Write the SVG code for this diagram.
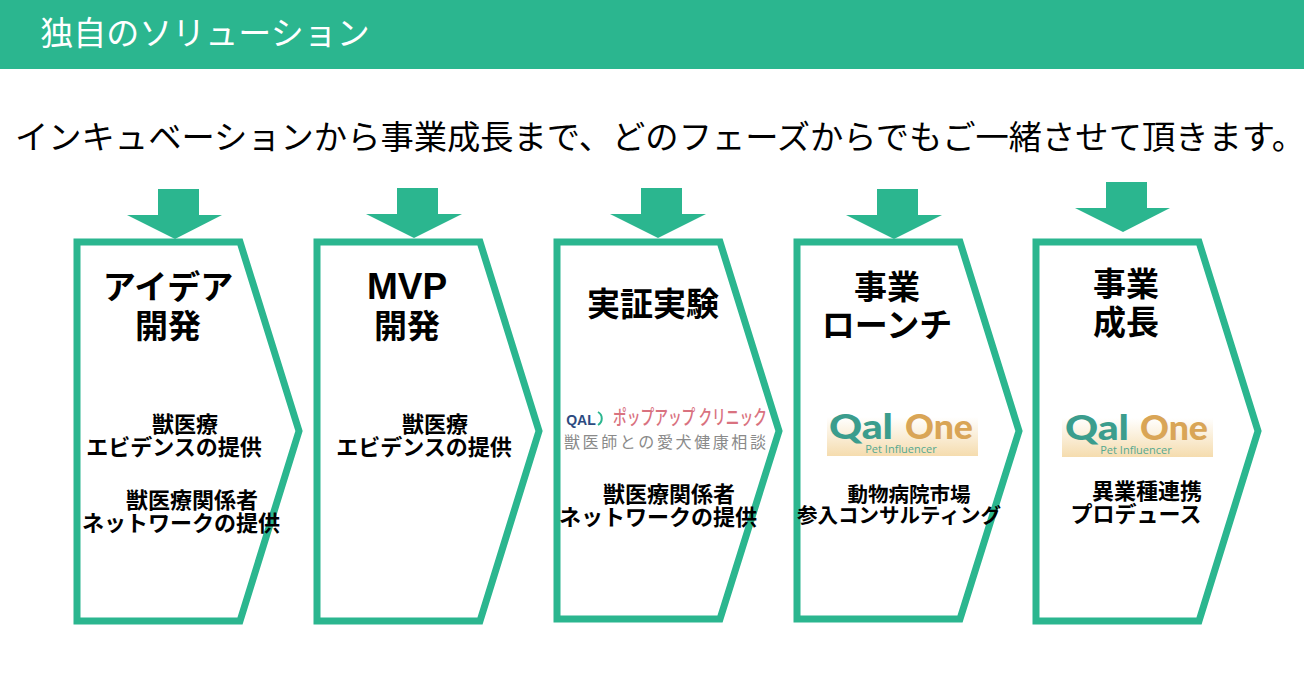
<svg xmlns="http://www.w3.org/2000/svg" width="1304" height="678" viewBox="0 0 1304 678">
<defs>
<linearGradient id="g" x1="0" y1="0" x2="0" y2="1"><stop offset="0" stop-color="#fff"/><stop offset="1" stop-color="#f5dcae"/></linearGradient>
</defs>
<style>
text{font-family:"Noto Sans CJK JP","Liberation Sans",sans-serif;fill:#000;text-anchor:middle}
.s{fill:none;stroke:#2bb68f;stroke-width:7;stroke-miterlimit:8}
.a{fill:#2bb68f}
.h{font-size:33px;font-weight:700}
.b{font-size:22px;font-weight:700}
.c{font-size:20.500px;font-weight:700}
.q{font-family:"Lato","Liberation Sans",sans-serif;font-size:35px;font-weight:900;text-anchor:start}
.p{font-family:"Open Sans","Liberation Sans",sans-serif;font-size:11px;fill:#55a890}
</style>
<rect width="1304" height="69" fill="#2bb68f"/>
<text x="205" y="45" style="font-size:33px;fill:#fff">独自のソリューション</text>
<text x="15" y="149" style="font-size:33px;text-anchor:start" textLength="1290" lengthAdjust="spacingAndGlyphs">インキュベーションから事業成長まで、どのフェーズからでもご一緒させて頂きます。</text>
<g id="connectors">
<polygon class="a" points="158,189 199,189 199,215 222,215 175,239 127,215 158,215"/>
<polygon class="a" points="397,188 438,188 438,214 462,214 414,238 366,214 397,214"/>
<polygon class="a" points="641,188 682,188 682,214 706,214 658,238 610,214 641,214"/>
<polygon class="a" points="877,189 918,189 918,215 942,215 894,239 846,215 877,215"/>
<polygon class="a" points="1106,182 1147,182 1147,208 1170,208 1123,232 1075,208 1106,208"/>
</g>
<g id="n1">
<polygon class="s" points="77,242 240,242 299,431 240,621 77,621"/>
<text class="h" x="168" y="299">アイデア</text><text class="h" x="168" y="338">開発</text>
<text class="b" x="185" y="432">獣医療</text><text class="b" x="174" y="455">エビデンスの提供</text>
<text class="b" x="192" y="508">獣医療関係者</text><text class="b" x="181" y="531">ネットワークの提供</text>
</g>
<g id="n2">
<polygon class="s" points="317,242 480,242 539,431 480,621 317,621"/>
<text class="h" x="407" y="299" style="font-family:'Liberation Sans',sans-serif;font-size:37px">MVP</text><text class="h" x="407" y="338">開発</text>
<text class="b" x="435" y="432">獣医療</text><text class="b" x="424" y="455">エビデンスの提供</text>
</g>
<g id="n3">
<polygon class="s" points="557,242 720,242 779,431 720,619 557,619"/>
<text class="h" x="653" y="316">実証実験</text>
<text x="581" y="425" style="font-family:'Liberation Sans',sans-serif;font-size:14px;font-weight:700;fill:#2c4a80">QAL</text>
<path d="M598 412a7.500 7.500 0 0 1 0 13" fill="none" stroke="#2bb68f" stroke-width="2"/>
<text x="690" y="425" style="font-size:20px;font-weight:500;fill:#d9727f" textLength="154" lengthAdjust="spacingAndGlyphs">ポップアップ クリニック</text>
<text x="665" y="448" style="font-size:16px;fill:#8a8a8a" textLength="202" lengthAdjust="spacing">獣医師との愛犬健康相談</text>
<text class="b" x="669" y="502">獣医療関係者</text><text class="b" x="658" y="525">ネットワークの提供</text>
</g>
<g id="n4">
<polygon class="s" points="797,242 960,242 1019,431 960,619 797,619"/>
<text class="h" x="887" y="299">事業</text><text class="h" x="887" y="337">ローンチ</text>
<rect x="827" y="417" width="151" height="39" fill="url(#g)"/>
<text class="q" x="829" y="439" style="fill:#3b9d8d" textLength="64" lengthAdjust="spacingAndGlyphs">Qal</text><text class="q" x="905" y="439" style="fill:#d9a556" textLength="68" lengthAdjust="spacingAndGlyphs">One</text>
<text class="p" x="901" y="453">Pet Influencer</text>
<text class="c" x="909" y="502">動物病院市場</text><text class="c" x="899" y="523">参入コンサルティング</text>
</g>
<g id="n5">
<polygon class="s" points="1036,242 1199,242 1258,431 1199,621 1036,621"/>
<text class="h" x="1126" y="296">事業</text><text class="h" x="1126" y="334">成長</text>
<rect x="1062" y="418" width="151" height="39" fill="url(#g)"/>
<text class="q" x="1065" y="440" style="fill:#3b9d8d" textLength="64" lengthAdjust="spacingAndGlyphs">Qal</text><text class="q" x="1140" y="440" style="fill:#d9a556" textLength="68" lengthAdjust="spacingAndGlyphs">One</text>
<text class="p" x="1136" y="454">Pet Influencer</text>
<text class="b" x="1147" y="499">異業種連携</text><text class="b" x="1136" y="522">プロデュース</text>
</g>
</svg>
